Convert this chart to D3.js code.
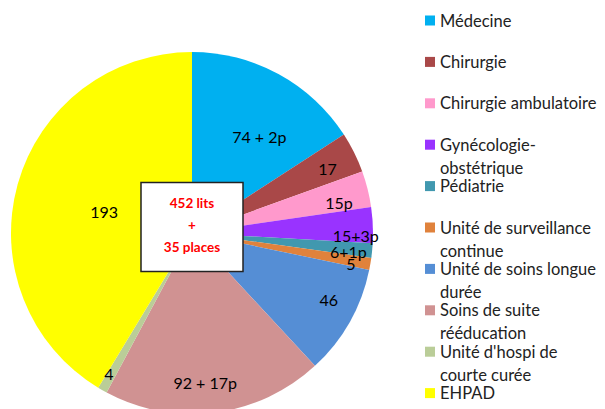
<!DOCTYPE html>
<html>
<head>
<meta charset="utf-8">
<script src="https://cdn.jsdelivr.net/npm/d3@7"></script>
<style>
  body { margin: 0; background: #fff; }
  svg { display: block; font-family: Lato, "Open Sans", sans-serif; }
</style>
</head>
<body>
<div class="chart"></div>
<script>
const width = 605, height = 409;

// data (lits per service, places shown in the labels)
const categories = ["Médecine", "Chirurgie", "Chirurgie ambulatoire", "Gynécologie-\nobstétrique",
  "Pédiatrie", "Unité de surveillance\ncontinue", "Unité de soins longue\ndurée",
  "Soins de suite\nrééducation", "Unité d'hospi de\ncourte curée", "EHPAD"];
const lits = [74, 17, 15, 15, 6, 5, 46, 92, 4, 193];
const sliceLabels = ["74 + 2p", "17", "15p", "15+3p", "6+1p", "5", "46", "92 + 17p", "4", "193"];
const centerLines = ["452 lits", "+", "35 places"];

const colors = ["#00b0f0", "#a94848", "#ff99cc", "#9933ff", "#4198af",
  "#e0823c", "#558ed5", "#d09292", "#bacd98", "#ffff00"];

// label placement: [fraction of radius, angle shift in degrees]
const labelPos = [[0.65, 6.4], [0.83, 0.9], [0.83, 2.2], [0.905, 3.2], [0.87, 1],
  [0.895, 1.2], [0.84, -3.5], [0.83, 2.3], [0.9, 1], [0.5, -1.6]];

const cx = 192, cy = 233, radius = 181;

const svg = d3.select('.chart')
  .append('svg')
  .attr('width', width)
  .attr('height', height);

const g = svg.append('g')
  .attr('transform', 'translate(' + cx + ',' + cy + ')');

const pie = d3.pie().sort(null).value(d => d);
const arcs = pie(lits);
const arc = d3.arc().innerRadius(0).outerRadius(radius);

g.selectAll('.slice')
  .data(arcs)
  .enter()
  .append('path')
  .attr('class', 'slice')
  .attr('d', arc)
  .attr('fill', (d, i) => colors[i]);

g.selectAll('.slabel')
  .data(arcs)
  .enter()
  .append('text')
  .attr('class', 'slabel')
  .attr('text-anchor', 'middle')
  .attr('dominant-baseline', 'central')
  .attr('font-size', 16)
  .attr('fill', '#000')
  .attr('x', (d, i) => {
    const a = (d.startAngle + d.endAngle) / 2 + labelPos[i][1] * Math.PI / 180;
    return Math.sin(a) * radius * labelPos[i][0];
  })
  .attr('y', (d, i) => {
    const a = (d.startAngle + d.endAngle) / 2 + labelPos[i][1] * Math.PI / 180;
    return -Math.cos(a) * radius * labelPos[i][0];
  })
  .text((d, i) => sliceLabels[i]);

// centre box
const box = svg.append('g');
box.append('rect')
  .attr('x', 141).attr('y', 182.5)
  .attr('width', 102).attr('height', 89)
  .attr('fill', '#fff')
  .attr('stroke', '#222')
  .attr('stroke-width', 1.5);
box.selectAll('text')
  .data(centerLines)
  .enter()
  .append('text')
  .attr('x', 192)
  .attr('y', (d, i) => 203 + i * 22)
  .attr('text-anchor', 'middle')
  .attr('dominant-baseline', 'central')
  .attr('font-size', 13.5)
  .attr('font-weight', 'bold')
  .attr('fill', '#ff0000')
  .text(d => d);

// legend
const legend = svg.append('g')
  .attr('transform', 'translate(425, 20.5)');

const item = legend.selectAll('.item')
  .data(categories)
  .enter()
  .append('g')
  .attr('class', 'item')
  .attr('transform', (d, i) => 'translate(0,' + (i * 41.4) + ')');

item.append('rect')
  .attr('x', 0).attr('y', -5)
  .attr('width', 10).attr('height', 10)
  .attr('fill', (d, i) => colors[i]);

item.append('text')
  .attr('font-size', 16.5)
  .attr('fill', '#222')
  .selectAll('tspan')
  .data(d => d.split('\n'))
  .enter()
  .append('tspan')
  .attr('x', 15)
  .attr('y', (d, i) => i * 23)
  .attr('dominant-baseline', 'central')
  .text(d => d);
</script>
</body>
</html>
